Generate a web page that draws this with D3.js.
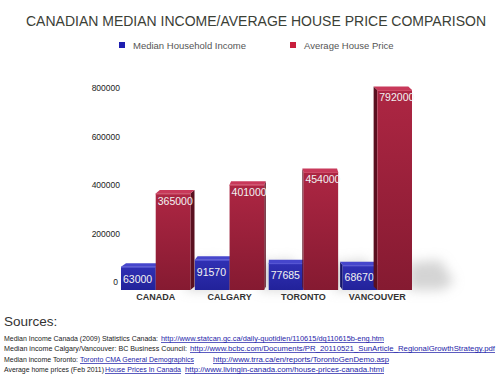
<!DOCTYPE html>
<html><head><meta charset="utf-8">
<script src="https://cdn.jsdelivr.net/npm/d3@7"></script>
<style>body{margin:0;background:#fff}svg{display:block}text{font-family:"Liberation Sans",Arial,sans-serif}</style>
</head><body>
<svg id="c" width="500" height="381"></svg>
<script>
const categories = ["CANADA", "CALGARY", "TORONTO", "VANCOUVER"];
const medianIncome = [63000, 91570, 77685, 68670];
const housePrice = [365000, 401000, 454000, 792000];
const yTicks = [0, 200000, 400000, 600000, 800000];
const seriesNames = ["Median Household Income", "Average House Price"];
const title = "CANADIAN MEDIAN INCOME/AVERAGE HOUSE PRICE COMPARISON";
const sourceLines = [
  [{t:"Median Income Canada (2009) Statistics Canada:", x0:4, x1:158},
   {t:"http://www.statcan.gc.ca/daily-quotidien/110615/dq110615b-eng.htm", x0:161, x1:384, link:true}],
  [{t:"Median income Calgary/Vancouver:  BC Business Council:", x0:4, x1:187},
   {t:"http://www.bcbc.com/Documents/PR_20110521_SunArticle_RegionalGrowthStrategy.pdf", x0:190, x1:495, link:true}],
  [{t:"Median income Toronto:", x0:4, x1:78},
   {t:"Toronto CMA General Demographics", x0:80, x1:194, link:true},
   {t:"http://www.trra.ca/en/reports/TorontoGenDemo.asp", x0:213, x1:389, link:true}],
  [{t:"Average home prices (Feb 2011)", x0:4, x1:104},
   {t:"House Prices In Canada", x0:105, x1:181, link:true},
   {t:"http://www.livingin-canada.com/house-prices-canada.html", x0:185, x1:384, link:true}]
];

const svg = d3.select("#c");
const defs = svg.append("defs");
defs.append("filter").attr("id","blur").attr("x","-50%").attr("y","-50%").attr("width","200%").attr("height","200%")
  .append("feGaussianBlur").attr("stdDeviation", 6);
function grad(id, c1, c2){
  const g = defs.append("linearGradient").attr("id", id).attr("x1",0).attr("y1",0).attr("x2",0).attr("y2",1);
  g.append("stop").attr("offset","0%").attr("stop-color", c1);
  g.append("stop").attr("offset","100%").attr("stop-color", c2);
}
grad("gBlue", "#3030b4", "#22229a");
grad("gRed", "#ad2643", "#851a31");

// title
svg.append("text").attr("x", 256).attr("y", 26).attr("text-anchor", "middle")
  .attr("font-size", 14).attr("fill", "#3b4036").text(title);

// legend
const legCol = ["#1e1eb0", "#c81e3c"];
const legX = [119, 290];
seriesNames.forEach((n, i) => {
  svg.append("rect").attr("x", legX[i]).attr("y", 42).attr("width", 6).attr("height", 6).attr("fill", legCol[i]);
  svg.append("text").attr("x", legX[i] + 14).attr("y", 49).attr("font-size", 9.5).attr("fill", "#555").text(n);
});

const y = d3.scaleLinear().domain([0, 800000]).range([282, 88]);
const x = d3.scaleBand().domain(categories).range([121, 412]).paddingInner(0.06).paddingOuter(0);
const bw = x.bandwidth() / 2;

// y axis labels
const yAxis = d3.axisLeft(y).tickValues(yTicks).tickSize(0).tickPadding(0).tickFormat(d3.format("d"));
const ga = svg.append("g").attr("transform", "translate(120,0)").call(yAxis);
ga.select(".domain").remove();
ga.selectAll("text").attr("font-size", 8.5).attr("fill", "#222").attr("font-family", '"Liberation Sans",Arial,sans-serif');
ga.selectAll(".tick").filter(d => d === 0).select("text").attr("x", -2);

const base = y(0) + 8;
const vp = 290;
const bars = [];
categories.forEach((c, i) => {
  bars.push({c, v: medianIncome[i], x0: x(c), s: 0});
  bars.push({c, v: housePrice[i], x0: x(c) + bw, s: 1});
});

const gShadow = svg.append("g").attr("filter", "url(#blur)");
bars.filter(b => b.s === 1).forEach(b => {
  const x1 = b.x0 + bw, h = Math.min(base - y(b.v), 30);
  gShadow.append("polygon")
    .attr("points", [[x1 - 4, base], [x1 - 4, base - h * 0.9], [x1 + 28, base - h], [x1 + 42, base - 8], [x1 + 30, base]].join(" "))
    .attr("fill", "#aaaaaa").attr("opacity", 0.5);
});

const gb = svg.append("g");
bars.forEach(b => {
  const x0 = b.x0, x1 = b.x0 + bw, top = y(b.v);
  const cx = (x0 + x1) / 2;
  const dx = Math.max(-5, Math.min(5, (vp - cx) * 0.035)), dy = -3.5;
  const sideCol = b.s ? "#5a1020" : "#15156a";
  const topCol = b.s ? "#c8395a" : "#4646cc";
  const edge = dx < 0 ? x0 : x1;
  gb.append("polygon").attr("points", [[edge, top], [edge + dx, top + dy], [edge + dx, base + dy], [edge, base]].join(" ")).attr("fill", sideCol);
  gb.append("polygon").attr("points", [[x0, top], [x1, top], [x1 + dx, top + dy], [x0 + dx, top + dy]].join(" ")).attr("fill", topCol);
  gb.append("rect").attr("x", x0).attr("y", top).attr("width", bw).attr("height", base - top)
    .attr("fill", b.s ? "url(#gRed)" : "url(#gBlue)");
  gb.append("line").attr("x1", x0).attr("x2", x1).attr("y1", top + 0.5).attr("y2", top + 0.5)
    .attr("stroke", b.s ? "#d2506c" : "#5a5ad8").attr("stroke-width", 1);
  gb.append("text").attr("x", x0 + 2).attr("y", top + (b.s ? 11.5 : 16)).attr("font-size", 10.5)
    .attr("fill", "#fff").attr("stroke", "rgba(0,0,0,0.15)").attr("stroke-width", 0.3).text(b.v);
});

// category labels
svg.append("g").selectAll("text").data(categories).join("text")
  .attr("x", d => x(d) + x.bandwidth() / 2).attr("y", 300).attr("text-anchor", "middle")
  .attr("font-size", 9).attr("font-weight", "bold").attr("fill", "#333").text(d => d);

// sources
svg.append("text").attr("x", 4).attr("y", 326).attr("font-size", 13.5).attr("fill", "#333").text("Sources:");
const lineY = [341, 351, 362, 372];
sourceLines.forEach((segs, li) => {
  segs.forEach(s => {
    svg.append("text").attr("x", s.x0).attr("y", lineY[li]).attr("font-size", 7.2)
      .attr("textLength", s.x1 - s.x0).attr("lengthAdjust", "spacingAndGlyphs")
      .attr("fill", s.link ? "#1c1ca8" : "#222")
      .attr("text-decoration", s.link ? "underline" : null).text(s.t);
  });
});
</script>
</body></html>
